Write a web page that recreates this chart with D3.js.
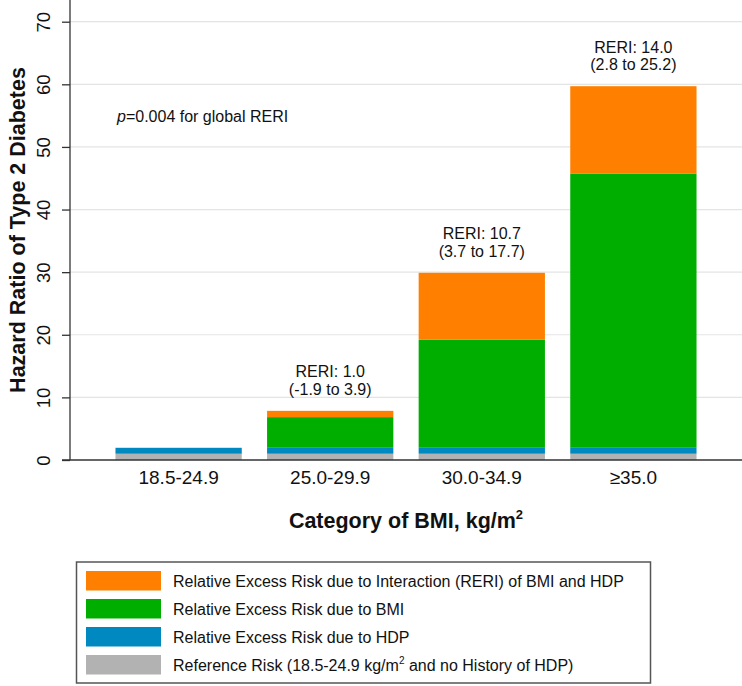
<!DOCTYPE html>
<html><head><meta charset="utf-8">
<script src="https://cdn.jsdelivr.net/npm/d3@7"></script>
<style>body{margin:0;background:#fff}svg{display:block;font-family:"Liberation Sans",Arial,sans-serif}</style>
</head><body>
<script>
const categories = ["18.5-24.9", "25.0-29.9", "30.0-34.9", "\u226535.0"];
const referenceRisk = [1, 1, 1, 1];
const hdpExcess = [0.95, 0.95, 0.95, 0.95];
const bmiExcess = [0, 4.9, 17.25, 43.75];
const reriExcess = [0, 1.0, 10.7, 14.0];
const reriLabels = [null, ["RERI: 1.0", "(-1.9 to 3.9)"], ["RERI: 10.7", "(3.7 to 17.7)"], ["RERI: 14.0", "(2.8 to 25.2)"]];
const yTicks = [0, 10, 20, 30, 40, 50, 60, 70];
const seriesKeys = ["ref", "hdp", "bmi", "reri"];
const seriesColors = {ref: "#b2b2b2", hdp: "#0088c0", bmi: "#00ae00", reri: "#ff8000"};
const legendItems = [
  {key: "reri", text: "Relative Excess Risk due to Interaction (RERI) of BMI and HDP"},
  {key: "bmi", text: "Relative Excess Risk due to BMI"},
  {key: "hdp", text: "Relative Excess Risk due to HDP"},
  {key: "ref", text: "Reference Risk (18.5-24.9 kg/m", sup: "2", tail: " and no History of HDP)"}
];

const W = 742, H = 686;
const svg = d3.select("body").append("svg").attr("width", W).attr("height", H);

const x = d3.scaleBand().domain(categories).range([70, 742]).paddingInner(0.167).paddingOuter(0.3);
const y = d3.scaleLinear().domain([0, 70]).range([460, 21.7]);

// gridlines
svg.append("g").selectAll("line").data(yTicks.filter(d => d > 0)).join("line")
  .attr("x1", 70).attr("x2", W).attr("y1", d => y(d)).attr("y2", d => y(d))
  .attr("stroke", "#e4e4e4").attr("stroke-width", 1.2);

const table = categories.map((c, i) => ({cat: c, ref: referenceRisk[i], hdp: hdpExcess[i], bmi: bmiExcess[i], reri: reriExcess[i]}));
const stacked = d3.stack().keys(seriesKeys)(table);

svg.append("g").selectAll("g").data(stacked).join("g")
  .attr("fill", d => seriesColors[d.key])
  .selectAll("rect").data(d => d).join("rect")
  .attr("x", d => x(d.data.cat)).attr("width", x.bandwidth())
  .attr("y", d => y(d[1])).attr("height", d => Math.max(0, y(d[0]) - y(d[1])));

// y axis
const yAxis = svg.append("g").attr("transform", "translate(70,0)")
  .call(d3.axisLeft(y).tickValues(yTicks).tickSize(8).tickPadding(0).tickFormat(d3.format("d")));
yAxis.select(".domain").attr("d", "M0,0V460").attr("stroke", "#333").attr("stroke-width", 1.3);
yAxis.selectAll(".tick line").attr("stroke", "#333").attr("stroke-width", 1.3);
yAxis.selectAll(".tick text").attr("transform", "translate(-26,0) rotate(-90)")
  .attr("x", 0).attr("dy", "0.35em").attr("text-anchor", "middle")
  .attr("font-size", 18.5).attr("fill", "#111").attr("font-family", "Liberation Sans, Arial, sans-serif");

// x axis
const xAxis = svg.append("g").attr("transform", "translate(0,460)")
  .call(d3.axisBottom(x).tickSize(0).tickPadding(11));
xAxis.select(".domain").attr("d", "M62,0H742").attr("stroke", "#333").attr("stroke-width", 1.3);
xAxis.selectAll(".tick text").attr("font-size", 19).attr("fill", "#111").attr("font-family", "Liberation Sans, Arial, sans-serif");

// axis titles
svg.append("text").attr("transform", "translate(25,230) rotate(-90)")
  .attr("text-anchor", "middle").attr("font-size", 21.5).attr("font-weight", "bold").attr("fill", "#111")
  .text("Hazard Ratio of Type 2 Diabetes");
const xt = svg.append("text").attr("x", 406).attr("y", 528).attr("text-anchor", "middle")
  .attr("font-size", 21.5).attr("font-weight", "bold").attr("fill", "#111");
xt.append("tspan").text("Category of BMI, kg/m");
xt.append("tspan").attr("dy", -9).attr("font-size", 13).text("2");

// RERI labels
table.forEach((d, i) => {
  if (!reriLabels[i]) return;
  const top = y(d.ref + d.hdp + d.bmi + d.reri);
  const cx = x(d.cat) + x.bandwidth() / 2;
  const t = svg.append("text").attr("text-anchor", "middle").attr("font-size", 16).attr("fill", "#111");
  t.append("tspan").attr("x", cx).attr("y", top - 33.5).text(reriLabels[i][0]);
  t.append("tspan").attr("x", cx).attr("y", top - 16).text(reriLabels[i][1]);
});

// p-value annotation
const pt = svg.append("text").attr("x", 117).attr("y", 122).attr("font-size", 16).attr("fill", "#111");
pt.append("tspan").attr("font-style", "italic").text("p");
pt.append("tspan").text("=0.004 for global RERI");

// legend
const lg = svg.append("g");
lg.append("rect").attr("x", 76.5).attr("y", 562).attr("width", 574).attr("height", 121)
  .attr("fill", "#fff").attr("stroke", "#555").attr("stroke-width", 1.5);
legendItems.forEach((it, i) => {
  const ry = 571 + i * 28;
  lg.append("rect").attr("x", 86).attr("y", ry).attr("width", 75).attr("height", 19.5).attr("fill", seriesColors[it.key]);
  const t = lg.append("text").attr("x", 173).attr("y", ry + 15.5).attr("font-size", 16).attr("fill", "#111");
  t.append("tspan").text(it.text);
  if (it.sup) {
    t.append("tspan").attr("dy", -7).attr("font-size", 10).text(it.sup);
    t.append("tspan").attr("dy", 7).text(it.tail);
  }
});
</script>
</body></html>
